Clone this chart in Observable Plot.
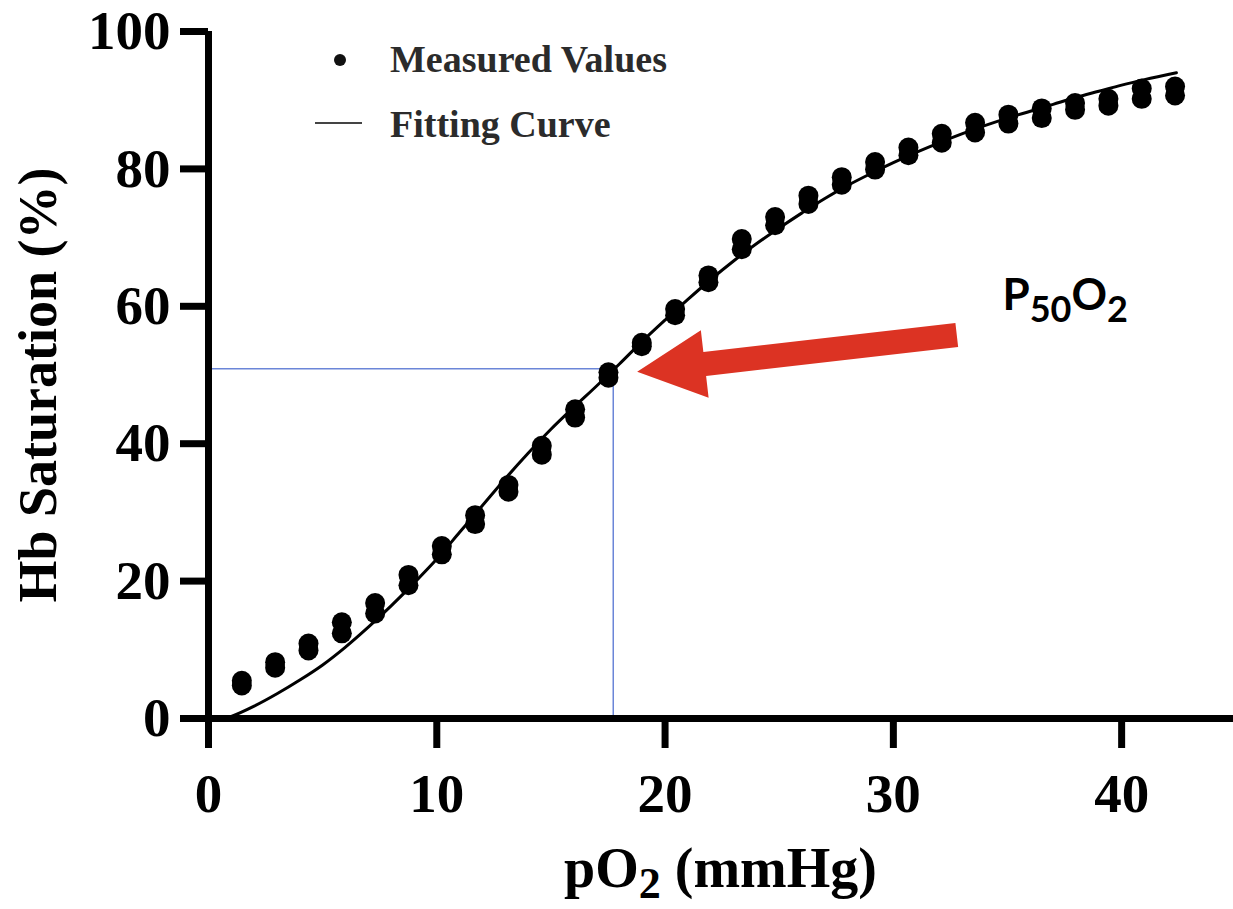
<!DOCTYPE html>
<html>
<head>
<meta charset="utf-8">
<script src="https://cdn.jsdelivr.net/npm/d3@7"></script>
<script src="https://cdn.jsdelivr.net/npm/@observablehq/plot@0.6"></script>
<style>
  html, body { margin: 0; padding: 0; background: #ffffff; }
  #chart { width: 1233px; height: 909px; }
</style>
</head>
<body>
<div id="chart"></div>
<script>
// ---------- data ----------
const pO2 = [1.46, 2.92, 4.38, 5.84, 7.30, 8.76, 10.22, 11.68, 13.14, 14.60,
             16.06, 17.52, 18.98, 20.44, 21.90, 23.36, 24.82, 26.28, 27.74, 29.20,
             30.66, 32.12, 33.58, 35.04, 36.50, 37.96, 39.42, 40.88, 42.34];
const satRep1 = [5.5, 8.2, 10.9, 14.0, 16.8, 20.9, 25.1, 29.6, 34.0, 39.7,
                 45.0, 50.4, 54.7, 59.6, 64.5, 69.8, 73.0, 76.1, 78.8, 81.0,
                 83.1, 85.1, 86.7, 87.9, 88.8, 89.6, 90.2, 91.7, 92.0];
const satRep2 = [4.8, 7.4, 9.9, 12.4, 15.3, 19.4, 23.9, 28.3, 33.0, 38.4,
                 43.8, 49.6, 54.2, 58.7, 63.5, 68.3, 71.8, 74.9, 77.7, 79.9,
                 82.0, 83.8, 85.3, 86.6, 87.4, 88.6, 89.2, 90.2, 90.7];
const fitPO2 = [0.75, 1, 2, 3, 4, 5, 6, 7, 8, 9, 10, 11, 12, 13, 14, 15, 16, 17, 18, 19, 20,
                21, 22, 23, 24, 25, 26, 27, 28, 29, 30, 31, 32, 33, 34, 35, 36, 37, 38, 39, 40, 41, 42.4];
const fitSat = [0, 0.3, 1.8, 3.6, 5.6, 7.8, 10.4, 13.3, 16.4, 19.7, 23.2, 27.1, 31.0, 34.9, 38.6,
                42.1, 45.3, 48.4, 51.6, 54.9, 58.0, 61.0, 63.9, 66.6, 69.1, 71.4, 73.6, 75.7, 77.6,
                79.3, 80.9, 82.4, 83.8, 85.1, 86.3, 87.4, 88.4, 89.4, 90.4, 91.3, 92.2, 93.0, 94.0];
const xTicks = [0, 10, 20, 30, 40];
const yTicks = [0, 20, 40, 60, 80, 100];
const xDomain = [0, 44.9];
const yDomain = [0, 100];
const p50 = 17.73;          // mmHg
const p50Sat = 50.9;        // %
const arrowTail = [32.8, 55.75];
const arrowTip = [18.8, 50.4];
const p50Label = {x: 34.8, y: 59.4, main: "P", sub1: "50", mid: "O", sub2: "2"};
const legendLabels = ["Measured Values", "Fitting Curve"];
const xTitle = {main: "pO", sub: "2", rest: " (mmHg)"};
const yTitle = "Hb Saturation (%)";

// ---------- tables built from the arrays ----------
const measured = pO2.flatMap((x, i) => [{x, y: satRep1[i]}, {x, y: satRep2[i]}]);
const fit = fitPO2.map((x, i) => ({x, y: fitSat[i]}));

const SERIF = "'Liberation Serif', 'Times New Roman', serif";
const SANS = "Lato, 'Open Sans', sans-serif";

function ctx(args) {
  const scales = args.find(a => a && typeof a.x === "function" && typeof a.y === "function");
  const dims = args.find(a => a && typeof a.width === "number" && "marginLeft" in a);
  return {scales, dims};
}

// red arrow pointing at P50
function arrowMark(...args) {
  const {scales} = ctx(args);
  const x1 = scales.x(arrowTail[0]), y1 = scales.y(arrowTail[1]);
  const x2 = scales.x(arrowTip[0]), y2 = scales.y(arrowTip[1]);
  const dx = x2 - x1, dy = y2 - y1, len = Math.hypot(dx, dy);
  const ux = dx / len, uy = dy / len, nx = -uy, ny = ux;
  const headLen = 68, headHalf = 34, shaftHalf = 12;
  const bx = x2 - ux * headLen, by = y2 - uy * headLen;
  const pts = [
    [x1 + nx * shaftHalf, y1 + ny * shaftHalf],
    [bx + nx * shaftHalf, by + ny * shaftHalf],
    [bx + nx * headHalf, by + ny * headHalf],
    [x2, y2],
    [bx - nx * headHalf, by - ny * headHalf],
    [bx - nx * shaftHalf, by - ny * shaftHalf],
    [x1 - nx * shaftHalf, y1 - ny * shaftHalf]
  ];
  const g = d3.create("svg:g");
  g.append("polygon").attr("points", pts.map(p => p.join(",")).join(" ")).attr("fill", "#dc3323");
  return g.node();
}

// P50O2 label
function p50LabelMark(...args) {
  const {scales} = ctx(args);
  const t = d3.create("svg:text")
    .attr("x", scales.x(p50Label.x)).attr("y", scales.y(p50Label.y))
    .attr("text-anchor", "start")
    .attr("font-family", SANS).attr("font-weight", 700).attr("font-size", 44).attr("fill", "#000");
  t.append("tspan").text(p50Label.main);
  t.append("tspan").attr("font-size", 36).attr("dy", 12).text(p50Label.sub1);
  t.append("tspan").attr("dy", -12).text(p50Label.mid);
  t.append("tspan").attr("font-size", 36).attr("dy", 12).text(p50Label.sub2);
  return t.node();
}

// legend inside the frame
function legendMark(...args) {
  const {dims} = ctx(args);
  const left = dims.marginLeft, top = dims.marginTop;
  const g = d3.create("svg:g").attr("font-family", SERIF).attr("font-weight", "bold")
    .attr("font-size", 38).attr("fill", "#2b2b2b").attr("text-anchor", "start");
  g.append("circle").attr("cx", left + 132).attr("cy", top + 29).attr("r", 6).attr("fill", "#111");
  g.append("text").attr("x", left + 182).attr("y", top + 41).text(legendLabels[0]);
  g.append("line").attr("x1", left + 107).attr("x2", left + 154)
    .attr("y1", top + 92).attr("y2", top + 92).attr("stroke", "#444").attr("stroke-width", 2.2);
  g.append("text").attr("x", left + 182).attr("y", top + 106).text(legendLabels[1]);
  return g.node();
}

// x-axis title with subscript
function xTitleMark(...args) {
  const {dims} = ctx(args);
  const cx = (dims.marginLeft + dims.width - dims.marginRight) / 2;
  const baseline = dims.height - dims.marginBottom + 169;
  const t = d3.create("svg:text").attr("x", cx).attr("y", baseline)
    .attr("text-anchor", "middle").attr("font-family", SERIF).attr("font-weight", "bold")
    .attr("font-size", 56).attr("fill", "#000");
  t.append("tspan").text(xTitle.main);
  t.append("tspan").attr("font-size", 44).attr("dy", 11).text(xTitle.sub);
  t.append("tspan").attr("dy", -11).text(xTitle.rest);
  return t.node();
}

const chart = Plot.plot({
  width: 1233,
  height: 909,
  marginLeft: 208,
  marginRight: 0,
  marginTop: 31,
  marginBottom: 191,
  style: {background: "#ffffff", color: "#000000", fontFamily: SERIF},
  x: {domain: xDomain, label: null},
  y: {domain: yDomain, label: null},
  marks: [
    Plot.ruleY([p50Sat], {x1: 0, x2: p50, stroke: "#6b86d8", strokeWidth: 1.5}),
    Plot.ruleX([p50], {y1: 0, y2: p50Sat, stroke: "#6b86d8", strokeWidth: 1.5}),
    Plot.line(fit, {x: "x", y: "y", stroke: "#000", strokeWidth: 3, curve: "monotone-x"}),
    Plot.dot(measured, {x: "x", y: "y", r: 10, fill: "#000", stroke: null}),
    Plot.ruleX([0], {y1: 0, y2: 100, stroke: "#000", strokeWidth: 7}),
    Plot.ruleY([0], {stroke: "#000", strokeWidth: 7}),
    Plot.axisX({ticks: xTicks, tickSize: 30, tickPadding: 24, strokeWidth: 7,
      fontSize: 55, fontWeight: "bold", fontFamily: SERIF, label: null}),
    Plot.axisY({ticks: yTicks, tickSize: 28, tickPadding: 10, strokeWidth: 7,
      fontSize: 55, fontWeight: "bold", fontFamily: SERIF, label: null}),
    Plot.text([yTitle], {text: d => d, frameAnchor: "left", textAnchor: "middle", lineAnchor: "middle",
      rotate: -90, dx: -170, dy: 10, fontSize: 54, fontWeight: "bold", fontFamily: SERIF, fill: "#000"}),
    xTitleMark,
    arrowMark,
    p50LabelMark,
    legendMark
  ]
});
document.getElementById("chart").appendChild(chart);
</script>
</body>
</html>
